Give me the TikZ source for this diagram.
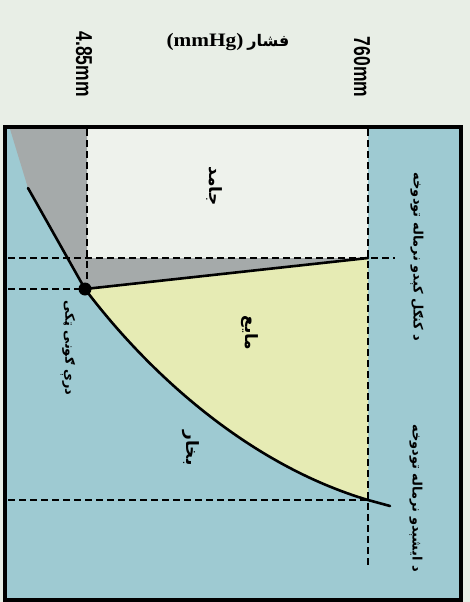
\documentclass[tikz,border=0pt]{standalone}
\usepackage{fontspec}
\setmainfont{Liberation Serif}
\setsansfont{Liberation Sans}
\newfontfamily\arabicfont[Script=Arabic]{DejaVu Sans}
\TeXXeTstate=1
\definecolor{bgc}{RGB}{232,238,230}
\definecolor{vap}{RGB}{158,202,210}
\definecolor{sol}{RGB}{238,242,236}
\definecolor{liq}{RGB}{230,235,180}
\definecolor{gry}{RGB}{165,170,170}
\begin{document}
\begin{tikzpicture}[x=1pt,y=-1pt,
  dashline/.style={line width=2.2pt, dash pattern=on 7pt off 4pt},
  curve/.style={line width=2.6pt, line cap=round},
  lab/.style={font=\arabicfont\bfseries\fontsize{13}{15}\selectfont, rotate=-90, inner sep=0pt},
  biglab/.style={font=\arabicfont\bfseries\fontsize{17}{19}\selectfont, rotate=-90, inner sep=0pt},
  num/.style={font=\sffamily\bfseries\fontsize{23}{25}\selectfont, rotate=-90, inner sep=0pt}]
\useasboundingbox (0,0) rectangle (470,602);
\fill[bgc] (0,0) rectangle (470,602);
\coordinate (TP) at (85,289);
\coordinate (SL) at (368,258);
\coordinate (LB) at (368,500);
\coordinate (LE) at (390,506);
\coordinate (SB) at (28,188);
\coordinate (ST) at (10,129);
% regions
\fill[vap] (5,127) rectangle (461,600);
\fill[sol] (87,129) rectangle (368,258);
\fill[gry] (ST) -- (87,129) -- (87,258) -- (SL) -- (TP) -- (SB) -- cycle;
\fill[liq] (TP) -- (SL) -- (LB) .. controls (250,465) and (150,375) .. (TP) -- cycle;
% dashed guides
\coordinate (VA1) at (87,129);
\coordinate (VA2) at (87,283);
\coordinate (VB1) at (368,129);
\coordinate (VB2) at (368,567);
\coordinate (HA1) at (8,258);
\coordinate (HA2) at (395,258);
\coordinate (HB1) at (8,289);
\coordinate (HC1) at (8,500);
\draw[dashline] (VA1) -- (VA2);
\draw[dashline] (VB1) -- (VB2);
\draw[dashline] (HA1) -- (HA2);
\draw[dashline] (HB1) -- (TP);
\draw[dashline] (HC1) -- (LB);
% curves
\draw[curve] (SB) -- (TP);
\draw[curve] (TP) -- (SL);
\draw[curve] (TP) .. controls (150,375) and (250,465) .. (LB) -- (LE);
\fill (TP) circle (6.5);
% frame
\draw[line width=3.8pt] (5,127) rectangle (461,600);
% labels
\node[num] (p1) at (84,64) {\scalebox{0.76}[1]{4.85mm}};
\node[num] (p2) at (362,67) {\scalebox{0.76}[1]{760mm}};
\node[inner sep=0pt] (pax) at (228,42) {\fontsize{19}{22}\selectfont\bfseries\scalebox{1.12}[1]{(mmHg)}\hspace{4pt}{\arabicfont\fontsize{16}{18}\selectfont\beginR فشار\endR}};
\node[biglab] (ls) at (214,186) {\beginR جامد\endR};
\node[biglab] (ll) at (250,333) {\beginR مایع\endR};
\node[biglab] (lv) at (191,448) {\beginR بخار\endR};
\node[lab] (lt) at (68,348) {\beginR درې ګونی ټکی\endR};
\node[lab] (lf) at (417,257) {\beginR د کنګل کېدو نرماله تودوخه\endR};
\node[lab] (lb) at (416,498) {\beginR د ایشېدو نرماله تودوخه\endR};
\end{tikzpicture}
\end{document}
